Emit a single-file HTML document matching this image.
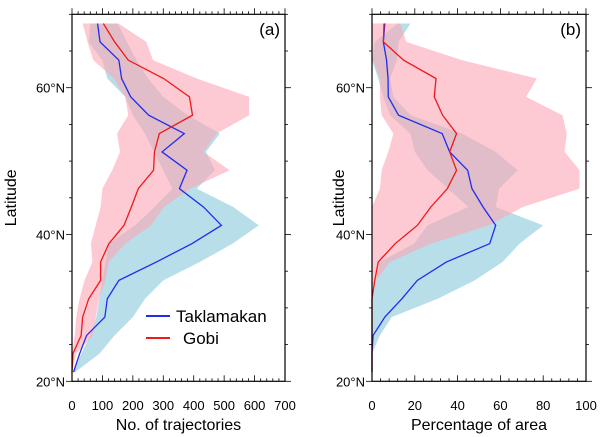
<!DOCTYPE html>
<html><head><meta charset="utf-8"><style>
body{margin:0;background:#fff;}
svg{display:block;font-family:"Liberation Sans",Arial,sans-serif;}
</style></head><body>
<svg id="c" width="600" height="437" viewBox="0 0 600 437"></svg>
<script>
const lats=[68.75,66.25,63.75,61.25,58.75,56.25,53.75,51.25,48.75,46.25,43.75,41.25,38.75,36.25,33.75,31.25,28.75,26.25,23.75,21.25];
// Panel a: number of trajectories
const aTak=[84,92,154,163,193,252,369,296,378,353,432,491,394,277,154,116,108,48,25,5];
const aGobi=[103,140,185,301,386,396,287,271,268,218,195,171,121,94,94,55,35,30,3,0];
const aTakLo=[60,55,100,116,175,200,240,270,300,330,271,207,121,110,100,90,80,60,30,5];
const aTakHi=[150,180,212,250,300,380,486,440,470,410,530,614,528,420,300,240,200,140,90,10];
const aGobiLo=[35,51,70,137,175,185,148,158,132,100,94,78,62,67,41,25,14,9,0,0];
const aGobiHi=[153,244,266,410,582,582,475,432,518,389,303,260,175,121,110,89,78,68,14,0];
// Panel b: percentage of area
const bTak=[6,5.3,6.8,7.5,7.6,12.4,32.8,36.3,44.7,46.7,51.9,57.8,55,34.7,21.2,14,6,0.5,0,0];
const bGobi=[5.6,5.3,14.8,29.9,29.1,33,39.5,36.3,39.5,35.2,27.5,21.2,10.8,2.9,1.3,0,0,0,0,0];
const bTakLo=[12,1.3,0,2.9,5.3,8.4,18,20,26,35.5,45,26,19.6,3.7,2,0,0,0,0,0];
const bTakHi=[18,12.4,11.6,8.4,10,18,42,57.8,68,59.4,57.8,80,69,61,48,30.7,9.2,3.7,0,0];
const bGobiLo=[0,0,0.5,3.7,3.7,4.5,10,7.6,4.5,3.7,0,0,0,0,0,0,0,0,0,0];
const bGobiHi=[13.2,16,42,77,72,89,91,90,97,97,70.5,54.6,27.5,8.4,2,0,0,0,0,0];
const aTicks=[0,100,200,300,400,500,600,700];
const bTicks=[0,20,40,60,80,100];
const latTicks=[20,40,60];

const svg=document.getElementById('c');
const NS='http://www.w3.org/2000/svg';
function mk(t,a,p){const e=document.createElementNS(NS,t);for(const k in a)e.setAttribute(k,a[k]);(p||svg).appendChild(e);return e;}
const yTop=14.3,yBot=381.3;
const yS=l=>yBot-(l-20)/50*(yBot-yTop);

function panel(x0,x1,xmax,ticks,minorStep,tak,gobi,tLo,tHi,gLo,gHi,label,title,nm,latX){
  const g=mk('g',{});
  
  
  const xS=v=>x0+v/xmax*(x1-x0);
  const band=(lo,hi,fill,n)=>{
    let pts=lats.map((l,i)=>xS(lo[i])+','+yS(l));
    pts=pts.concat(lats.map((l,i)=>xS(hi[i])+','+yS(l)).reverse());
    const p=mk('polygon',{points:pts.join(' '),fill:fill},g);
    
    
  };
  band(tLo,tHi,'rgba(160,212,226,0.75)',nm+'-taklamakan-band');
  band(gLo,gHi,'rgba(252,165,180,0.6)',nm+'-gobi-band');
  const line=(v,c,n)=>{
    const p=mk('polyline',{points:lats.map((l,i)=>xS(v[i])+','+yS(l)).join(' '),fill:'none',stroke:c,'stroke-width':1.3},g);
    
    
  };
  line(tak,'#1f2cf0',nm+'-taklamakan-line');
  line(gobi,'#f01818',nm+'-gobi-line');
  mk('rect',{x:x0,y:yTop,width:x1-x0,height:yBot-yTop,fill:'none',stroke:'#000','stroke-width':1.2},g);
  for(let v=0;v<=xmax+1e-6;v+=minorStep){
    const x=xS(v);const major=ticks.includes(Math.round(v));
    const L=major?6:3;
    mk('line',{x1:x,x2:x,y1:yBot,y2:yBot-L,stroke:'#000','stroke-width':0.8},g);
    mk('line',{x1:x,x2:x,y1:yTop,y2:yTop-L,stroke:'#000','stroke-width':0.8},g);
  }
  ticks.forEach(v=>{
    const t=mk('text',{x:xS(v),y:410,'font-size':13,'text-anchor':'middle'},g);
    t.textContent=v;
    
    
  });
  for(let l=20;l<=70;l+=5){
    const y=yS(l);const major=latTicks.includes(l);const L=major?6:3;
    mk('line',{x1:x0,x2:x0-L,y1:y,y2:y,stroke:'#000','stroke-width':0.8},g);
    mk('line',{x1:x1,x2:x1+L,y1:y,y2:y,stroke:'#000','stroke-width':0.8},g);
  }
  latTicks.forEach(l=>{
    const t=mk('text',{x:x0-7,y:yS(l)+5,'font-size':13,'text-anchor':'end'},g);
    t.textContent=l+'°N';
    
    
  });
  const yl=mk('text',{x:0,y:0,'font-size':16,'text-anchor':'middle',transform:`translate(${latX},${(yTop+yBot)/2}) rotate(-90)`},g);
  yl.textContent='Latitude';
  
  
  const xt=mk('text',{x:(x0+x1)/2,y:430,'font-size':16,'text-anchor':'middle'},g);
  xt.textContent=title;
  
  
  const pl=mk('text',{x:x1-5,y:35,'font-size':17,'text-anchor':'end'},g);
  pl.textContent=label;
  
  
}
panel(72,285,700,aTicks,20,aTak,aGobi,aTakLo,aTakHi,aGobiLo,aGobiHi,'(a)','No. of trajectories','panel-a',16);
panel(372,586,100,bTicks,4,bTak,bGobi,bTakLo,bTakHi,bGobiLo,bGobiHi,'(b)','Percentage of area','panel-b',344);

const lg=mk('g',{});


mk('line',{x1:146,x2:170,y1:316,y2:316,stroke:'#1f2cf0','stroke-width':2},lg);
const t1=mk('text',{x:176,y:322,'font-size':17},lg);t1.textContent='Taklamakan';


mk('line',{x1:146,x2:170,y1:338,y2:338,stroke:'#f01818','stroke-width':2},lg);
const t2=mk('text',{x:183,y:344,'font-size':17},lg);t2.textContent='Gobi';


</script>
</body></html>
